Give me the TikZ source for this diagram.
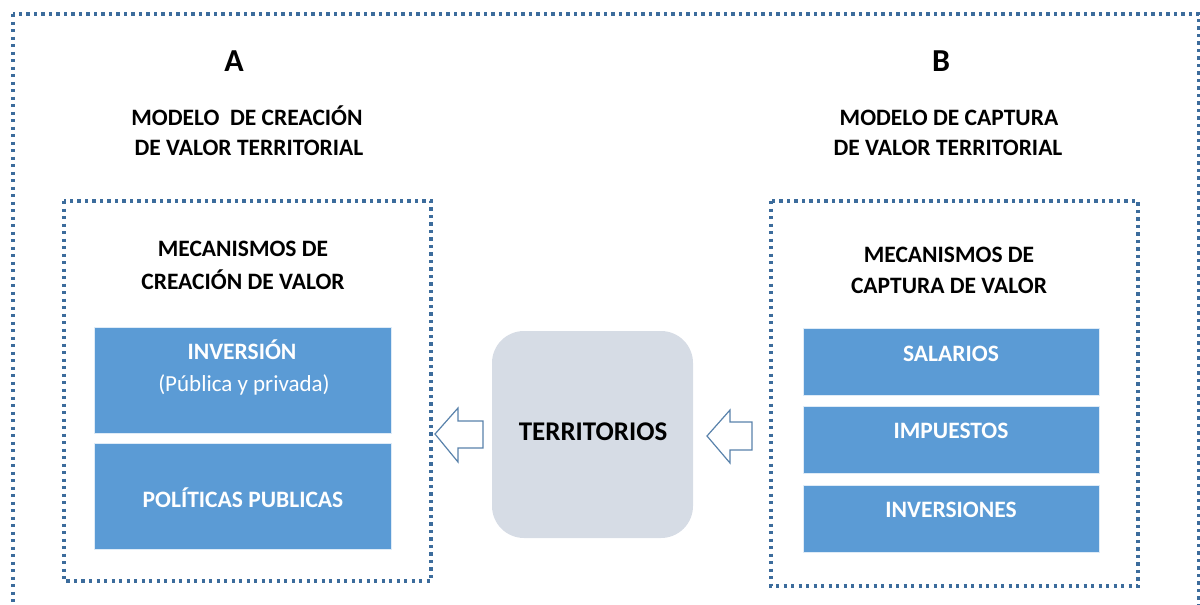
\documentclass[tikz,border=0pt]{standalone}
\usepackage{fontspec}
\setmainfont{Carlito}
\definecolor{dotblue}{HTML}{3C6C9C}
\definecolor{boxblue}{HTML}{5B9BD5}
\definecolor{terrfill}{HTML}{D6DCE5}
\begin{document}
\begin{tikzpicture}[x=1pt,y=-1pt,
  dotframe/.style={draw=dotblue,line width=3.2pt,dash pattern=on 3.2pt off 4.3pt},
  bluebox/.style={draw=white!80!boxblue,line width=0.8pt,fill=boxblue,inner sep=0pt},
  ttl/.style={font=\fontsize{23.5}{28}\selectfont\bfseries,anchor=base,text=black,inner sep=0pt},
  letter/.style={font=\fontsize{32}{36}\selectfont\bfseries,anchor=base,inner sep=0pt},
  wtxt/.style={font=\fontsize{23.5}{28}\selectfont\bfseries,anchor=base,text=white,inner sep=0pt},
  wreg/.style={font=\fontsize{23}{28}\selectfont,anchor=base,text=white,inner sep=0pt},
  blockarrow/.style={draw=dotblue!85,fill=white,line width=1.2pt,line join=miter}
]
\useasboundingbox (0,0) rectangle (1200,605);
\begin{scope}
\clip (0,0) rectangle (1200,605);
% outer frame
\draw[dotframe] (13,14) rectangle (1199,640);
\end{scope}
% inner frames
\draw[dotframe] (64,201) rectangle (431,581);
\draw[dotframe] (771,201) rectangle (1138,586);

% titles
\node[letter] (la) at (234,71) {A};
\node[letter] (lb) at (941,71) {B};
\node[ttl] (ta1) at (247,125) {MODELO\ \ DE CREACIÓN};
\node[ttl] (ta2) at (249,155) {DE VALOR TERRITORIAL};
\node[ttl] (tb1) at (949,125) {MODELO DE CAPTURA};
\node[ttl] (tb2) at (948,155) {DE VALOR TERRITORIAL};

\node[ttl] (ma1) at (243,256) {MECANISMOS DE};
\node[ttl] (ma2) at (243,289) {CREACIÓN DE VALOR};
\node[ttl] (mb1) at (949,262) {MECANISMOS DE};
\node[ttl] (mb2) at (949,293) {CAPTURA DE VALOR};

% left blue boxes
\node[bluebox,minimum width=297pt,minimum height=106pt] (inv) at (242.5,380) {};
\node[bluebox,minimum width=297pt,minimum height=106pt] (pol) at (242.5,496) {};
\node[wtxt] (invt) at (242,359) {INVERSIÓN};
\node[wreg] (invs) at (244,391) {(Pública y privada)};
\node[wtxt] (polt) at (243,507) {POLÍTICAS PUBLICAS};

% right blue boxes
\node[bluebox,minimum width=296pt,minimum height=67pt] (sal) at (951,361.5) {};
\node[bluebox,minimum width=296pt,minimum height=67pt] (imp) at (951,440) {};
\node[bluebox,minimum width=296pt,minimum height=67pt] (invr) at (951,519) {};
\node[wtxt] (salt) at (951,361) {SALARIOS};
\node[wtxt] (impt) at (951,438) {IMPUESTOS};
\node[wtxt] (invrt) at (951,517) {INVERSIONES};

% territorios
\node[fill=terrfill,rounded corners=32pt,minimum width=201pt,minimum height=207pt,inner sep=0pt] (terr) at (592.5,434.5) {};
\node[font=\fontsize{27}{32}\selectfont\bfseries,anchor=base,inner sep=0pt] (terrt) at (593,440) {TERRITORIOS};

% block arrows
\draw[blockarrow] (435,434) -- (458,408) -- (458,421) -- (483,421) -- (483,448) -- (458,448) -- (458,462) -- cycle;
\draw[blockarrow] (707,436) -- (730,410) -- (730,422) -- (752,422) -- (752,450) -- (730,450) -- (730,463) -- cycle;
\end{tikzpicture}
\end{document}
